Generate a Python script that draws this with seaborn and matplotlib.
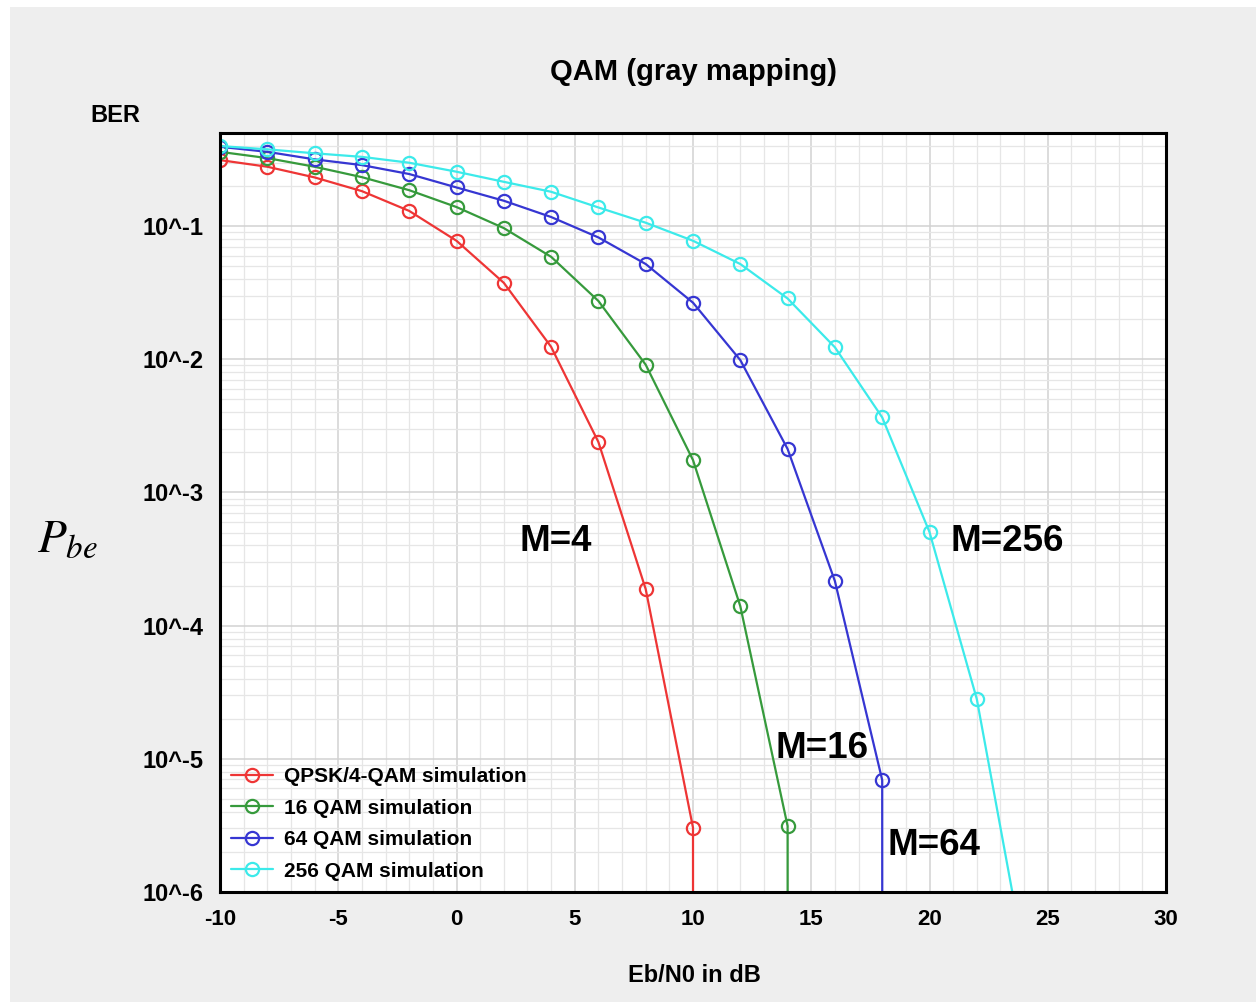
import numpy as np
import pandas as pd
import seaborn as sns
import matplotlib

matplotlib.use("Agg")
import matplotlib.pyplot as plt
from matplotlib.patches import Rectangle
from matplotlib.ticker import MultipleLocator, LogLocator, NullFormatter

# Eb/N0 in dB and simulated BER per modulation (0 = no errors counted)
ebn0_qpsk = [-10, -8, -6, -4, -2, 0, 2, 4, 6, 8, 10, 12]
ber_qpsk = [0.313, 0.279, 0.232, 0.183, 0.130, 0.0776, 0.0375, 0.0124,
            0.00239, 1.88e-4, 3.04e-6, 0]

ebn0_16 = [-10, -8, -6, -4, -2, 0, 2, 4, 6, 8, 10, 12, 14, 16]
ber_16 = [0.361, 0.324, 0.279, 0.233, 0.186, 0.139, 0.0966, 0.0588,
          0.0274, 0.0091, 0.00175, 1.40e-4, 3.13e-6, 0]

ebn0_64 = [-10, -8, -6, -4, -2, 0, 2, 4, 6, 8, 10, 12, 14, 16, 18, 20]
ber_64 = [0.394, 0.361, 0.317, 0.287, 0.246, 0.195, 0.155, 0.117, 0.0822,
          0.0519, 0.0266, 0.00986, 0.00212, 2.16e-4, 6.93e-6, 0]

ebn0_256 = [-10, -8, -6, -4, -2, 0, 2, 4, 6, 8, 10, 12, 14, 16, 18, 20, 22, 24]
ber_256 = [0.399, 0.377, 0.352, 0.331, 0.299, 0.256, 0.215, 0.181, 0.138,
           0.106, 0.0776, 0.0519, 0.0286, 0.0123, 0.00366, 5.04e-4, 2.81e-5,
           3.3e-7]

series_names = ["QPSK/4-QAM simulation", "16 QAM simulation",
                "64 QAM simulation", "256 QAM simulation"]
series_colors = ["#ee3535", "#369a3c", "#3636d2", "#3ceaea"]

# curve labels: text, Eb/N0, BER
curve_labels = ["M=4", "M=16", "M=64", "M=256"]
label_x = [4.2, 15.45, 20.2, 23.3]
label_y = [4.3e-4, 1.2e-5, 2.25e-6, 4.3e-4]

ytick_vals = [1e-1, 1e-2, 1e-3, 1e-4, 1e-5, 1e-6]
ytick_labels = ["10^-1", "10^-2", "10^-3", "10^-4", "10^-5", "10^-6"]

frames = []
for name, xs, ys in zip(series_names,
                        [ebn0_qpsk, ebn0_16, ebn0_64, ebn0_256],
                        [ber_qpsk, ber_16, ber_64, ber_256]):
    frames.append(pd.DataFrame({"ebn0": xs, "ber": ys, "mod": name}))
df = pd.concat(frames, ignore_index=True)

sns.set_style("white")
plt.rcParams["font.family"] = ["Liberation Sans", "DejaVu Sans"]
plt.rcParams["mathtext.fontset"] = "stix"
plt.rcParams["axes.unicode_minus"] = False
plt.rcParams["text.color"] = "black"
plt.rcParams["xtick.color"] = "black"
plt.rcParams["ytick.color"] = "black"

bg = "#eeeeee"
fig = plt.figure(figsize=(12.56, 10.02), dpi=100)
fig.patch.set_facecolor("white")
fig.patches.append(Rectangle((10 / 1256, 0), 1, 1 - 7 / 1002,
                             transform=fig.transFigure, facecolor=bg,
                             edgecolor="none", zorder=-10))
ax = fig.add_axes([220 / 1256, 1 - 892 / 1002, 946 / 1256, 759 / 1002])
ax.set_facecolor("white")
ax.set_yscale("log")

for name, col in zip(series_names, series_colors):
    sns.lineplot(data=df[df["mod"] == name], x="ebn0", y="ber", ax=ax,
                 color=col, label=name, estimator=None, errorbar=None,
                 marker="o", markersize=9.5, markerfacecolor="none",
                 markeredgecolor=col, markeredgewidth=1.6, linewidth=1.6)

ax.set_xlim(-10, 30)
ax.set_ylim(1e-6, 0.5)

ax.xaxis.set_major_locator(MultipleLocator(5))
ax.xaxis.set_minor_locator(MultipleLocator(1))
ax.set_yticks(ytick_vals)
ax.set_yticklabels(ytick_labels)
ax.yaxis.set_minor_locator(LogLocator(base=10, subs=np.arange(2, 10)))
ax.yaxis.set_minor_formatter(NullFormatter())

ax.grid(which="major", color="#d2d2d2", linewidth=1.1)
ax.grid(which="minor", color="#e6e6e6", linewidth=0.9)
ax.set_axisbelow(True)

ax.tick_params(which="both", length=0)
ax.tick_params(axis="x", labelsize=16, pad=12)
ax.tick_params(axis="y", labelsize=17, pad=12)
for t in ax.get_xticklabels() + ax.get_yticklabels():
    t.set_fontweight("bold")

for sp in ax.spines.values():
    sp.set_visible(True)
    sp.set_color("black")
    sp.set_linewidth(2.2)

ax.set_xlabel("")
ax.set_ylabel("")
fig.text(693 / 1256, 1 - 72 / 1002, "QAM (gray mapping)", ha="center",
         va="center", fontsize=21, fontweight="bold")
fig.text(115 / 1256, 1 - 115 / 1002, "BER", ha="center", va="center",
         fontsize=17, fontweight="bold")
fig.text(694 / 1256, 1 - 975 / 1002, "Eb/N0 in dB", ha="center",
         va="center", fontsize=17, fontweight="bold")
fig.text(68 / 1256, 1 - 540 / 1002, r"$P_{be}$", ha="center", va="center",
         fontsize=34)

for txt, lx, ly in zip(curve_labels, label_x, label_y):
    ax.text(lx, ly, txt, ha="center", va="center", fontsize=26.5,
            fontweight="bold")

leg = ax.legend(loc="lower left", frameon=False, fontsize=15,
                handlelength=2.0, handletextpad=0.5, labelspacing=0.6,
                borderaxespad=0.15, bbox_to_anchor=(0.0, 0.0))
for t in leg.get_texts():
    t.set_fontweight("bold")

fig.savefig("out.png", dpi=100, facecolor=fig.get_facecolor())
